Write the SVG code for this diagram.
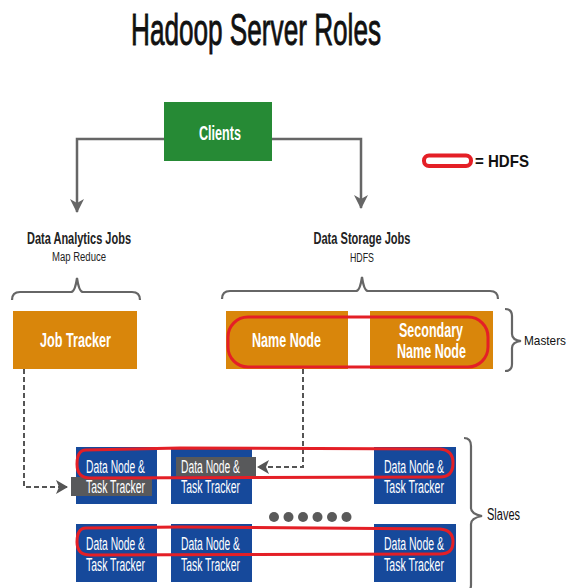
<svg xmlns="http://www.w3.org/2000/svg" width="569" height="588" viewBox="0 0 569 588">
  <style>
    text { font-family: "Liberation Sans", Arial, sans-serif; }
    .title { font-size: 45px; fill: #111; stroke: #111; stroke-width: 0.9; }
    .lbl { font-size: 16px; font-weight: bold; fill: #222; }
    .sub { font-size: 12.5px; fill: #222; }
    .side { font-size: 16px; fill: #111; }
    .wt { font-size: 19.5px; font-weight: bold; fill: #fff; }
    .dn { font-size: 17.5px; fill: #fff; }
    .green { fill: #268a35; }
    .orange { fill: #d9860b; }
    .blue { fill: #16499b; }
    .hl { fill: #58595b; }
    .hdfs { fill: none; stroke: #e41f26; stroke-width: 3; }
    .solid { fill: none; stroke: #666; stroke-width: 2.5; }
    .dash { fill: none; stroke: #555; stroke-width: 2; stroke-dasharray: 5 3; }
    .brace { fill: none; stroke: #666; stroke-width: 2.2; }
  </style>
  <defs>
    <marker id="arr" markerWidth="14" markerHeight="14" refX="13" refY="7" orient="auto" markerUnits="userSpaceOnUse">
      <path d="M0,0 L14,7 L0,14 L4,7 z" fill="#666"/>
    </marker>
    <marker id="arrd" markerWidth="12" markerHeight="14" refX="11" refY="7" orient="auto" markerUnits="userSpaceOnUse">
      <path d="M0,0 L12,7 L0,14 L3,7 z" fill="#555"/>
    </marker>
  </defs>

  <rect width="569" height="588" fill="#fff"/>

  <text class="title" x="256" y="45" text-anchor="middle" textLength="250" lengthAdjust="spacingAndGlyphs">Hadoop Server Roles</text>

  <!-- legend -->
  <g id="legend">
    <rect x="424" y="155.5" width="47" height="10.5" rx="5" fill="#fff" stroke="#e41f26" stroke-width="4"/>
    <text x="475" y="167" font-size="17" font-weight="bold" fill="#111" textLength="54" lengthAdjust="spacingAndGlyphs">= HDFS</text>
  </g>

  <!-- connectors -->
  <g id="connectors">
    <path class="solid" d="M164,139 H77 V212" marker-end="url(#arr)"/>
    <path class="solid" d="M272,139 H361 V208" marker-end="url(#arr)"/>
    <path class="dash" d="M24,369 V487 H67" marker-end="url(#arrd)"/>
    <path class="dash" d="M303,369 V467 H258" marker-end="url(#arrd)"/>
  </g>

  <!-- group labels -->
  <g id="analytics">
    <text class="lbl" x="79" y="244" text-anchor="middle" textLength="104" lengthAdjust="spacingAndGlyphs">Data Analytics Jobs</text>
    <text class="sub" x="79" y="261" text-anchor="middle" textLength="54" lengthAdjust="spacingAndGlyphs">Map Reduce</text>
  </g>
  <g id="storage">
    <text class="lbl" x="362" y="244" text-anchor="middle" textLength="97" lengthAdjust="spacingAndGlyphs">Data Storage Jobs</text>
    <text class="sub" x="362" y="262" text-anchor="middle" textLength="24" lengthAdjust="spacingAndGlyphs">HDFS</text>
  </g>

  <!-- braces -->
  <g id="braces">
    <path class="brace" d="M12,300 Q12,292 20,292 L71,292 Q75,292 77,278 Q79,292 83,292 L132,292 Q140,292 140,300"/>
    <path class="brace" d="M222,299 Q222,291 230,291 L356,291 Q360,291 362,277 Q364,291 368,291 L490,291 Q498,291 498,299"/>
    <path class="brace" d="M505,309 Q512,309 512,316 L512,334 Q512,340 521,341 Q512,342 512,348 L512,364 Q512,371 505,371"/>
    <path class="brace" d="M464,438 Q471,438 471,446 L471,508 Q471,514 482,516 Q471,518 471,524 L471,585 Q471,592 464,592"/>
  </g>
  <text class="side" x="524" y="345" style="font-size:13.5px" textLength="42" lengthAdjust="spacingAndGlyphs">Masters</text>
  <text class="side" x="503.5" y="520" text-anchor="middle" textLength="33" lengthAdjust="spacingAndGlyphs">Slaves</text>

  <!-- clients -->
  <g id="clients">
    <rect class="green" x="164" y="102" width="108" height="59"/>
    <text class="wt" x="220" y="140" text-anchor="middle" textLength="42" lengthAdjust="spacingAndGlyphs">Clients</text>
  </g>

  <!-- masters -->
  <g id="job-tracker">
    <rect class="orange" x="13" y="311" width="124" height="58"/>
    <text class="wt" x="75.5" y="347" text-anchor="middle" textLength="71" lengthAdjust="spacingAndGlyphs">Job Tracker</text>
  </g>
  <g id="name-node">
    <rect class="orange" x="226" y="311" width="122" height="58"/>
    <text class="wt" x="286.5" y="347" text-anchor="middle" textLength="69" lengthAdjust="spacingAndGlyphs">Name Node</text>
  </g>
  <g id="secondary-name-node">
    <rect class="orange" x="370" y="311" width="123" height="58"/>
    <text class="wt" x="431" y="337" text-anchor="middle" textLength="64" lengthAdjust="spacingAndGlyphs">Secondary</text>
    <text class="wt" x="431.5" y="358" text-anchor="middle" textLength="69" lengthAdjust="spacingAndGlyphs">Name Node</text>
  </g>

  <!-- slaves -->
  <g id="slave-1-1">
    <rect class="blue" x="76" y="447" width="81" height="57"/>
    <rect class="hl" x="71" y="477" width="81" height="19"/>
    <text class="dn" x="115.5" y="472.5" text-anchor="middle" textLength="59" lengthAdjust="spacingAndGlyphs">Data Node &amp;</text>
    <text class="dn" x="115.5" y="493" text-anchor="middle" textLength="59" lengthAdjust="spacingAndGlyphs">Task Tracker</text>
  </g>
  <g id="slave-1-2">
    <rect class="blue" x="171" y="447" width="81" height="57"/>
    <rect class="hl" x="176" y="457" width="80" height="19"/>
    <text class="dn" x="210.5" y="472.5" text-anchor="middle" textLength="59" lengthAdjust="spacingAndGlyphs">Data Node &amp;</text>
    <text class="dn" x="210.5" y="493" text-anchor="middle" textLength="59" lengthAdjust="spacingAndGlyphs">Task Tracker</text>
  </g>
  <g id="slave-1-3">
    <rect class="blue" x="374" y="447" width="82" height="57"/>
    <text class="dn" x="414" y="472.5" text-anchor="middle" textLength="60" lengthAdjust="spacingAndGlyphs">Data Node &amp;</text>
    <text class="dn" x="414" y="493" text-anchor="middle" textLength="60" lengthAdjust="spacingAndGlyphs">Task Tracker</text>
  </g>
  <g id="slave-2-1">
    <rect class="blue" x="76" y="524" width="81" height="58"/>
    <text class="dn" x="115.5" y="550" text-anchor="middle" textLength="59" lengthAdjust="spacingAndGlyphs">Data Node &amp;</text>
    <text class="dn" x="115.5" y="571" text-anchor="middle" textLength="59" lengthAdjust="spacingAndGlyphs">Task Tracker</text>
  </g>
  <g id="slave-2-2">
    <rect class="blue" x="171" y="524" width="81" height="58"/>
    <text class="dn" x="210.5" y="550" text-anchor="middle" textLength="59" lengthAdjust="spacingAndGlyphs">Data Node &amp;</text>
    <text class="dn" x="210.5" y="571" text-anchor="middle" textLength="59" lengthAdjust="spacingAndGlyphs">Task Tracker</text>
  </g>
  <g id="slave-2-3">
    <rect class="blue" x="374" y="524" width="82" height="58"/>
    <text class="dn" x="414" y="550" text-anchor="middle" textLength="60" lengthAdjust="spacingAndGlyphs">Data Node &amp;</text>
    <text class="dn" x="414" y="571" text-anchor="middle" textLength="60" lengthAdjust="spacingAndGlyphs">Task Tracker</text>
  </g>

  <!-- ellipsis between slave rows -->
  <g id="more-slaves" fill="#5a5a5a">
    <circle cx="274" cy="517" r="5"/>
    <circle cx="288.5" cy="517" r="5"/>
    <circle cx="303" cy="517" r="5"/>
    <circle cx="317.5" cy="517" r="5"/>
    <circle cx="332" cy="517" r="5"/>
    <circle cx="346.5" cy="517" r="5"/>
  </g>

  <!-- HDFS outlines -->
  <g id="hdfs-outlines">
    <rect class="hdfs" x="228" y="317" width="260" height="50" rx="20"/>
    <path class="hdfs" d="M86,450 L180,448 L440,449 Q453,450 453,463 Q453,477 440,477 L90,478 Q77,478 77,464 Q77,450 86,450 z"/>
    <path class="hdfs" d="M86,528 L180,527 L440,529 Q453,530 453,542 Q453,554 440,554 L90,555 Q77,555 77,542 Q77,528 86,528 z"/>
  </g>
</svg>
